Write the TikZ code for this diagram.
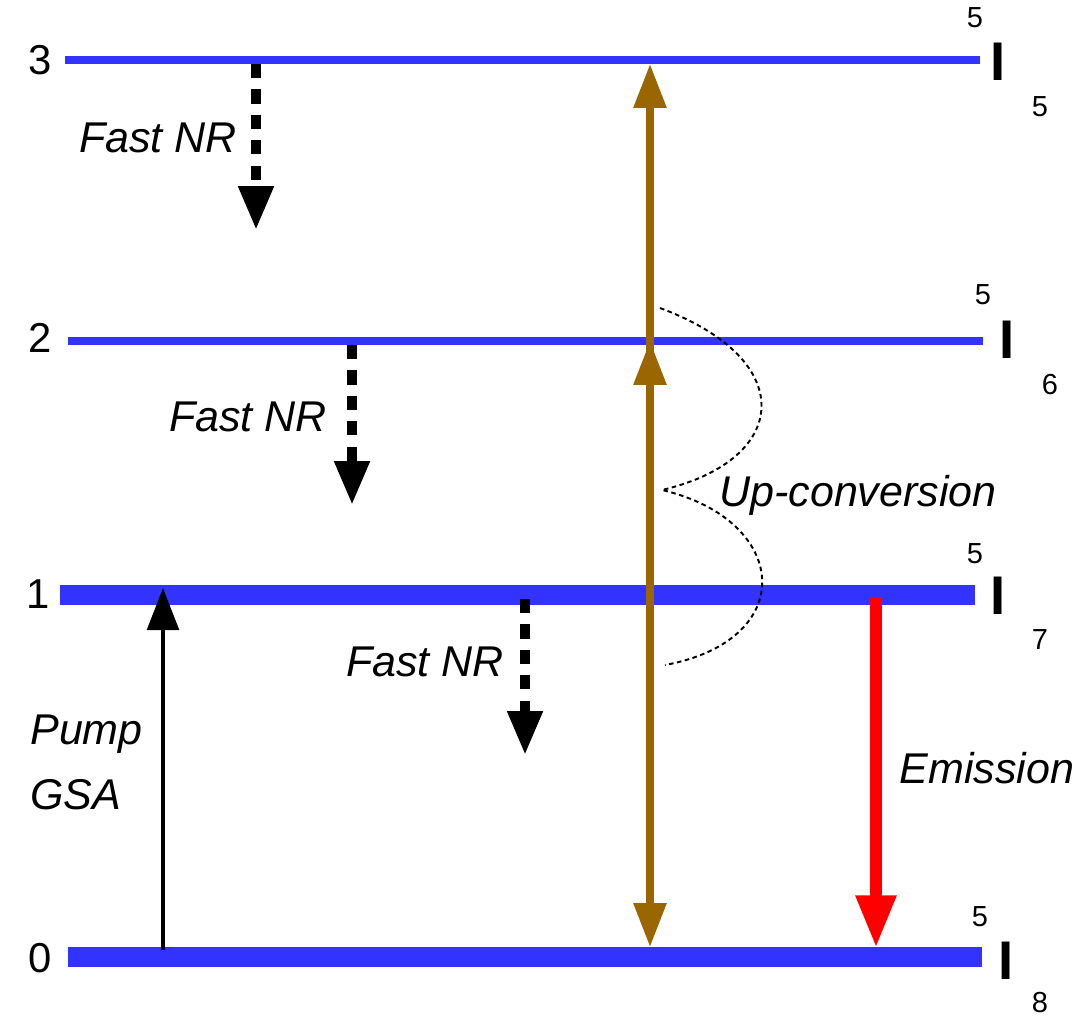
\documentclass[tikz,border=0pt]{standalone}
\usepackage{fontspec}
\setmainfont{Liberation Sans}
\usetikzlibrary{arrows.meta}
\definecolor{lvlblue}{RGB}{51,51,255}
\definecolor{upbrown}{RGB}{153,102,0}
\begin{document}
\begin{tikzpicture}[x=0.02cm,y=-0.02cm,
  thinlvl/.style={draw=lvlblue,line width=4.6pt},
  thicklvl/.style={draw=lvlblue,line width=11.6pt},
  lbl/.style={inner sep=0pt,font=\fontsize{24.5}{29}\selectfont\itshape},
  lvnum/.style={inner sep=0pt,font=\fontsize{23.8}{28}\selectfont},
  smalld/.style={inner sep=0pt,font=\fontsize{16.5}{19}\selectfont},
  bigI/.style={inner sep=0pt,font=\fontsize{31}{36}\selectfont\bfseries},
  nrarrow/.style={draw=black,line width=5.5pt,dash pattern=on 8pt off 6.5pt,
    -{Triangle[length=25pt,width=19pt]}},
  pumparrow/.style={draw=black,line width=2.4pt,-{Triangle[length=24pt,width=18pt]}},
  brownarrow/.style={draw=upbrown,line width=4pt},
  emarrow/.style={draw=red,line width=6.8pt,-{Triangle[length=30pt,width=21.6pt]}},
  curve/.style={draw=black,line width=1.1pt,dash pattern=on 2.6pt off 2pt}
]
\useasboundingbox (0,0) rectangle (1086,1018);
% level coordinates
\coordinate (L3a) at (65,60);  \coordinate (L3b) at (980,60);
\coordinate (L2a) at (68,341); \coordinate (L2b) at (983,341);
\coordinate (L1a) at (60,595); \coordinate (L1b) at (975,595);
\coordinate (L0a) at (68,957); \coordinate (L0b) at (982,957);
\draw[thinlvl] (L3a) -- (L3b);
\draw[thinlvl] (L2a) -- (L2b);
\draw[thicklvl] (L1a) -- (L1b);
\draw[thicklvl] (L0a) -- (L0b);
% left numbers
\node[lvnum] (n3) at (40,60) {3};
\node[lvnum] (n2) at (40,338) {2};
\node[lvnum] (n1) at (38,594) {1};
\node[lvnum] (n0) at (40,958) {0};
% right term symbols
\node[smalld] (s3) at (975,18) {5};
\node[bigI] (i3) at (998,62) {I};
\node[smalld] (t3) at (1040,107) {5};
\node[smalld] (s2) at (983,295) {5};
\node[bigI] (i2) at (1007,340) {I};
\node[smalld] (t2) at (1050,385) {6};
\node[smalld] (s1) at (975,554) {5};
\node[bigI] (i1) at (998,596) {I};
\node[smalld] (t1) at (1040,640) {7};
\node[smalld] (s0) at (980,917) {5};
\node[bigI] (i0) at (1006,961) {I};
\node[smalld] (t0) at (1040,1003) {8};
% fast NR arrows
\coordinate (nr1a) at (256,64);  \coordinate (nr1b) at (256,230);
\coordinate (nr2a) at (352,345); \coordinate (nr2b) at (352,505);
\coordinate (nr3a) at (525,599); \coordinate (nr3b) at (525,755);
\draw[nrarrow] (nr1a) -- (nr1b);
\draw[nrarrow] (nr2a) -- (nr2b);
\draw[nrarrow] (nr3a) -- (nr3b);
\node[lbl] (f1) at (158,138) {Fast NR};
\node[lbl] (f2) at (248,417) {Fast NR};
\node[lbl] (f3) at (425,662) {Fast NR};
% pump
\coordinate (pa) at (163,950); \coordinate (pb) at (163,588);
\draw[pumparrow] (pa) -- (pb);
\node[lbl,align=left,anchor=west] (pump) at (30,762) {Pump\\[8pt]GSA};
% up-conversion
\coordinate (ub) at (650,947); \coordinate (ut) at (650,64);
\coordinate (u1) at (650,595); \coordinate (u2) at (650,341);
\draw[brownarrow,{Triangle[length=25pt,width=18pt]}-{Triangle[length=25pt,width=18pt]}] (ub) -- (ut);
\draw[brownarrow,-{Triangle[length=25pt,width=18pt]}] (u1) -- (u2);
\coordinate (c0) at (660,308); \coordinate (c1) at (662,490); \coordinate (c2) at (665,665);
\draw[curve] (c0) .. controls (800,360) and (790,460) .. (c1)
                  .. controls (790,520) and (800,640) .. (c2);
\node[lbl] (upc) at (858,495) {Up-conversion};
% emission
\coordinate (ea) at (876,597); \coordinate (eb) at (876,948);
\draw[emarrow] (ea) -- (eb);
\node[lbl] (em) at (987,768) {Emission};
\end{tikzpicture}
\end{document}
